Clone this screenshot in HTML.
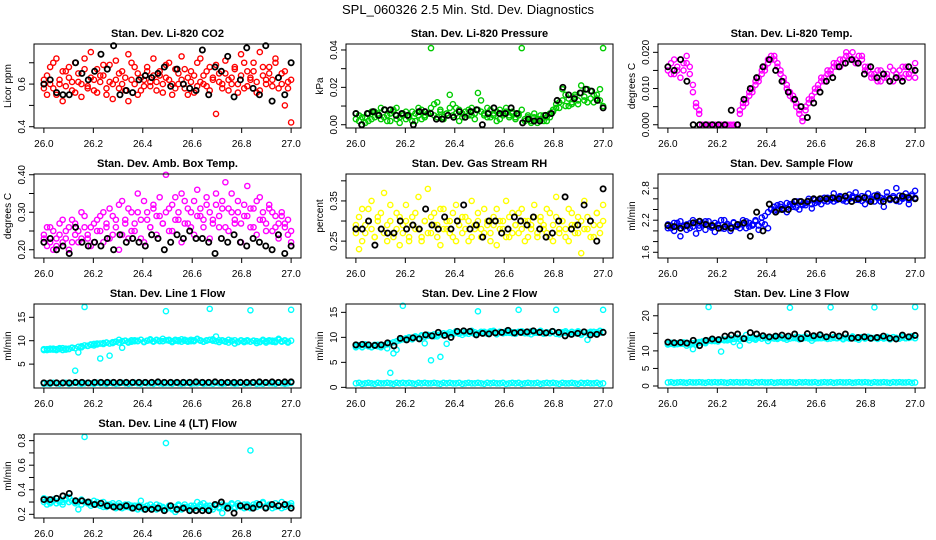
<!DOCTYPE html>
<html><head><meta charset="utf-8"><title>SPL_060326 Diagnostics</title>
<style>
html,body{margin:0;padding:0;background:#fff;}
svg{display:block;font-family:"Liberation Sans",sans-serif;}
</style></head>
<body>
<svg id="fig" width="936" height="540" viewBox="0 0 936 540">
<text x="468" y="14" text-anchor="middle" font-size="13">SPL_060326  2.5 Min. Std. Dev. Diagnostics</text>
</svg>
<script>
// ---- data per panel ----
const p1Color = [0.62,0.55,0.68,0.58,0.72,0.6,0.52,0.66,0.63,0.57,0.7,0.61,0.54,0.67,0.59,0.75,0.62,0.56,0.64,0.69,0.58,0.61,0.53,0.71,0.65,0.6,0.57,0.74,0.62,0.68,0.55,0.63,0.59,0.66,0.61,0.72,0.57,0.64,0.6,0.69,0.62,0.55,0.67,0.6,0.73,0.58,0.63,0.66,0.56,0.7,0.61,0.64,0.59,0.68,0.62,0.46,0.65,0.6,0.71,0.57,0.63,0.67,0.6,0.74,0.58,0.66,0.62,0.7,0.56,0.75,0.64,0.6,0.68,0.62,0.72,0.58,0.65,0.5,0.61,0.42];
const p1Color2 = [0.58,0.64,0.6,0.7,0.55,0.62,0.66,0.59,0.68,0.61,0.56,0.65,0.6,0.72,0.58,0.63,0.57,0.67,0.61,0.64,0.55,0.69,0.6,0.62,0.58,0.66,0.63,0.52,0.7,0.6,0.65,0.57,0.62,0.68,0.59,0.64,0.61,0.66,0.56,0.63,0.7,0.6,0.58,0.65,0.62,0.67,0.55,0.61,0.64,0.59,0.72,0.6,0.66,0.57,0.63,0.69,0.61,0.58,0.65,0.62,0.6,0.68,0.56,0.64,0.7,0.59,0.63,0.66,0.61,0.57,0.68,0.62,0.65,0.59,0.7,0.63,0.6,0.66,0.58,0.62];
const p1Black = [0.6,0.62,0.56,0.55,0.55,0.7,0.65,0.62,0.66,0.74,0.67,0.78,0.55,0.57,0.56,0.62,0.64,0.63,0.65,0.68,0.59,0.67,0.6,0.58,0.57,0.76,0.55,0.68,0.66,0.73,0.54,0.62,0.77,0.58,0.55,0.78,0.52,0.63,0.55,0.7];
const p2Color = [0.006,0.002,0.004,0.001,0.006,0.003,0.007,0.005,0.009,0.004,0.002,0.006,0.008,0.003,0.001,0.005,0.007,0.004,0.002,0.006,0.009,0.003,0.005,0.006,0.041,0.011,0.004,0.008,0.003,0.006,0.016,0.005,0.009,0.002,0.006,0.004,0.008,0.005,0.003,0.017,0.007,0.005,0.009,0.004,0.006,0.002,0.008,0.005,0.007,0.004,0.006,0.003,0.005,0.041,0.002,0.004,0.001,0.006,0.003,0.005,0.002,0.004,0.006,0.008,0.009,0.012,0.019,0.01,0.014,0.011,0.016,0.013,0.021,0.015,0.012,0.018,0.016,0.014,0.019,0.041];
const p2Color2 = [0.003,0.005,0.0,0.004,0.002,0.007,0.004,0.006,0.003,0.008,0.005,0.002,0.007,0.009,0.004,0.006,0.003,0.005,0.007,0.002,0.005,0.008,0.004,0.006,0.009,0.005,0.012,0.007,0.004,0.006,0.009,0.011,0.006,0.008,0.004,0.007,0.005,0.009,0.006,0.008,0.013,0.006,0.004,0.008,0.005,0.007,0.003,0.006,0.009,0.005,0.007,0.004,0.006,0.008,0.003,0.005,0.002,0.004,0.001,0.003,0.005,0.002,0.004,0.007,0.011,0.009,0.013,0.016,0.01,0.012,0.015,0.011,0.017,0.013,0.019,0.014,0.012,0.016,0.013,0.01];
const p2Black = [0.006,0.0,0.006,0.007,0.005,0.008,0.008,0.005,0.006,0.005,0.0,0.007,0.007,0.006,0.003,0.003,0.005,0.004,0.007,0.004,0.007,0.008,0.0,0.006,0.009,0.006,0.006,0.009,0.006,0.001,0.003,0.002,0.002,0.005,0.006,0.013,0.02,0.016,0.014,0.017,0.019,0.018,0.013,0.009];
const p3Color = [0.016,0.014,0.018,0.015,0.013,0.017,0.019,0.016,0.011,0.006,0.003,0,0,0,0,0,0,0,0,0,0,0,0,0.004,0.005,0.007,0.008,0.01,0.011,0.013,0.014,0.016,0.018,0.019,0.018,0.017,0.015,0.013,0.011,0.009,0.008,0.006,0.004,0.002,0.005,0.006,0.008,0.009,0.011,0.012,0.013,0.014,0.015,0.016,0.017,0.016,0.018,0.019,0.018,0.02,0.017,0.019,0.018,0.016,0.015,0.014,0.013,0.015,0.012,0.014,0.013,0.016,0.012,0.014,0.015,0.013,0.016,0.014,0.015,0.013];
const p3Color2 = [0.015,0.017,0.014,0.016,0.018,0.015,0.017,0.014,0.009,0.005,0.004,0,0,0,0,0,0,0,0,0,0,0,0,0.003,0.006,0.006,0.009,0.009,0.012,0.012,0.015,0.015,0.017,0.018,0.019,0.016,0.014,0.012,0.01,0.008,0.007,0.005,0.003,0.001,0.004,0.007,0.007,0.01,0.01,0.013,0.012,0.015,0.014,0.017,0.016,0.018,0.017,0.02,0.019,0.018,0.018,0.017,0.019,0.015,0.016,0.013,0.014,0.012,0.015,0.013,0.014,0.012,0.015,0.014,0.013,0.016,0.014,0.013,0.015,0.017];
const p3Black = [0.016,0.015,0.018,0.012,0,0,0,0,0,0,0.004,0,0.007,0.01,0.013,0.016,0.018,0.015,0.012,0.009,0.007,0.005,0.002,0.006,0.009,0.012,0.013,0.016,0.017,0.018,0.017,0.014,0.016,0.013,0.014,0.012,0.013,0.012,0.016,0.015];
const p4Color = [0.24,0.21,0.26,0.2,0.23,0.27,0.22,0.25,0.2,0.28,0.24,0.22,0.3,0.26,0.23,0.21,0.27,0.25,0.29,0.22,0.26,0.31,0.24,0.28,0.2,0.33,0.27,0.23,0.3,0.25,0.35,0.28,0.22,0.3,0.26,0.32,0.24,0.29,0.27,0.4,0.31,0.25,0.34,0.28,0.22,0.33,0.27,0.3,0.24,0.36,0.29,0.26,0.32,0.23,0.28,0.35,0.26,0.31,0.38,0.25,0.3,0.27,0.33,0.22,0.29,0.37,0.26,0.31,0.24,0.34,0.28,0.25,0.32,0.3,0.26,0.23,0.29,0.27,0.24,0.22];
const p4Color2 = [0.23,0.26,0.22,0.25,0.21,0.24,0.28,0.23,0.26,0.22,0.27,0.25,0.23,0.29,0.24,0.26,0.22,0.28,0.25,0.3,0.27,0.23,0.29,0.26,0.32,0.24,0.28,0.31,0.25,0.27,0.3,0.23,0.33,0.28,0.26,0.31,0.29,0.34,0.27,0.3,0.25,0.32,0.28,0.3,0.35,0.27,0.31,0.26,0.33,0.29,0.31,0.28,0.34,0.3,0.27,0.32,0.29,0.33,0.26,0.31,0.35,0.28,0.3,0.27,0.32,0.29,0.31,0.26,0.33,0.28,0.3,0.27,0.31,0.25,0.29,0.27,0.3,0.26,0.28,0.25];
const p4Black = [0.22,0.23,0.2,0.21,0.19,0.26,0.22,0.21,0.22,0.21,0.23,0.2,0.24,0.22,0.23,0.22,0.21,0.24,0.23,0.2,0.22,0.24,0.23,0.25,0.23,0.23,0.22,0.19,0.23,0.22,0.24,0.22,0.21,0.23,0.22,0.21,0.2,0.24,0.19,0.21];
const p5Color = [0.29,0.23,0.33,0.27,0.3,0.35,0.26,0.31,0.28,0.37,0.25,0.3,0.27,0.32,0.24,0.29,0.34,0.26,0.31,0.28,0.36,0.25,0.3,0.38,0.27,0.32,0.29,0.24,0.33,0.28,0.3,0.26,0.34,0.29,0.27,0.31,0.25,0.35,0.28,0.3,0.26,0.33,0.29,0.27,0.31,0.24,0.3,0.28,0.35,0.26,0.32,0.29,0.27,0.33,0.25,0.3,0.28,0.34,0.26,0.31,0.29,0.27,0.32,0.25,0.36,0.28,0.3,0.26,0.33,0.29,0.27,0.31,0.22,0.35,0.28,0.3,0.26,0.32,0.29,0.34];
const p5Color2 = [0.27,0.31,0.25,0.29,0.33,0.28,0.26,0.3,0.32,0.27,0.29,0.34,0.26,0.28,0.31,0.27,0.3,0.25,0.29,0.32,0.28,0.26,0.3,0.27,0.31,0.29,0.26,0.33,0.28,0.3,0.27,0.32,0.25,0.29,0.31,0.28,0.3,0.26,0.29,0.32,0.28,0.27,0.3,0.25,0.29,0.33,0.28,0.3,0.26,0.31,0.27,0.29,0.32,0.28,0.3,0.26,0.29,0.31,0.27,0.3,0.28,0.33,0.26,0.29,0.31,0.27,0.3,0.28,0.25,0.32,0.29,0.27,0.3,0.28,0.31,0.26,0.29,0.32,0.27,0.3];
const p5Black = [0.28,0.28,0.3,0.24,0.28,0.27,0.27,0.3,0.28,0.29,0.28,0.33,0.29,0.28,0.31,0.28,0.3,0.34,0.28,0.29,0.26,0.3,0.3,0.27,0.28,0.31,0.3,0.29,0.31,0.28,0.26,0.27,0.3,0.36,0.28,0.29,0.34,0.3,0.25,0.38];
const p6Color = [2.05,2.1,2.0,2.15,1.9,2.08,2.12,2.05,2.2,1.95,2.1,2.15,2.02,2.18,2.08,1.98,2.12,2.05,2.2,2.1,2.0,2.15,2.08,2.12,2.2,2.05,2.15,2.1,2.18,2.02,2.25,2.12,2.05,2.4,2.45,2.38,2.5,2.42,2.35,2.5,2.45,2.55,2.4,2.5,2.48,2.6,2.42,2.52,2.58,2.5,2.62,2.55,2.6,2.7,2.58,2.65,2.6,2.55,2.68,2.62,2.72,2.58,2.65,2.5,2.7,2.6,2.55,2.68,2.62,2.45,2.72,2.58,2.65,2.8,2.55,2.62,2.7,2.5,2.65,2.75];
const p6Color2 = [2.12,2.05,2.15,2.08,2.18,2.1,2.02,2.14,2.08,2.16,2.05,2.12,2.18,2.1,2.06,2.15,2.1,2.2,2.04,2.13,2.08,2.16,2.1,2.05,2.14,2.18,2.08,2.12,2.2,2.1,2.15,2.28,2.35,2.42,2.38,2.48,2.45,2.4,2.52,2.46,2.5,2.44,2.55,2.48,2.52,2.56,2.5,2.58,2.54,2.6,2.56,2.62,2.58,2.55,2.6,2.63,2.57,2.62,2.6,2.65,2.58,2.62,2.56,2.64,2.6,2.58,2.66,2.62,2.55,2.6,2.64,2.58,2.62,2.56,2.66,2.6,2.63,2.58,2.68,2.62];
const p6Black = [2.1,2.08,2.05,2.1,2.15,2.18,2.12,2.1,2.05,2.08,2.05,2.12,2.15,1.9,2.35,2.0,2.5,2.35,2.4,2.4,2.55,2.55,2.55,2.6,2.6,2.6,2.62,2.6,2.65,2.55,2.6,2.62,2.55,2.65,2.55,2.6,2.58,2.65,2.62,2.6];
const p7Color = [8.2,8.0,8.3,8.1,8.2,8.4,8.0,8.3,8.2,8.5,3.6,7.5,8.6,17.2,8.9,9.2,9.0,9.4,6.2,9.3,9.6,6.8,9.5,9.8,10.2,8.5,10.0,9.6,9.8,10.1,9.9,10.2,9.7,10.0,10.3,9.8,10.1,9.9,10.4,16.3,10.0,9.7,10.2,9.9,10.3,10.0,9.8,10.2,9.9,10.4,10.1,9.8,10.0,16.8,10.3,10.9,9.7,10.1,9.9,9.6,10.0,9.4,9.8,10.1,9.7,9.9,16.5,10.0,9.5,9.8,10.2,9.6,9.9,10.0,9.7,10.4,9.8,10.0,9.6,16.6];
const p7Color2 = [8.0,8.2,8.1,8.3,8.0,8.2,8.4,8.1,8.3,8.5,8.4,8.7,8.8,9.0,8.9,9.1,9.3,9.2,9.4,9.5,9.6,9.4,9.7,9.8,9.6,9.9,10.0,9.8,10.1,9.9,10.0,10.2,9.8,10.0,10.1,9.9,10.2,10.0,9.9,10.1,10.2,9.9,10.0,10.1,9.8,10.2,10.0,9.9,10.1,10.3,10.0,9.8,10.1,10.2,10.0,9.9,10.1,10.0,9.8,10.2,9.9,10.1,9.7,10.0,9.9,10.1,9.8,10.0,9.9,9.7,10.0,9.9,10.1,9.8,10.0,10.2,9.9,10.1,9.8,10.0];
const p7Low = [0.8,0.9,0.8,1.0,0.9,0.8,0.9,1.0,0.8,0.9,1.0,0.9,0.8,0.9,1.0,0.9,0.8,1.0,0.9,0.9,0.8,1.0,0.9,0.8,0.9,1.0,0.9,0.8,0.9,1.0,0.9,0.8,1.0,0.9,0.9,0.8,1.0,0.9,0.8,0.9,0.9,0.8,1.0,0.9,0.8,0.9,1.0,0.8,0.9,0.9,1.0,0.8,0.9,0.9,0.8,1.0,0.9,0.8,0.9,1.0,0.9,0.8,0.9,1.0,0.8,0.9,0.9,1.0,0.8,0.9,0.8,1.0,0.9,0.9,0.8,1.0,0.9,0.8,0.9,1.0];
const p7Black = [1.0,1.0,1.0,1.0,1.0,1.1,1.1,1.0,1.1,1.1,1.1,1.1,1.1,1.1,1.1,1.1,1.1,1.1,1.2,1.1,1.1,1.1,1.1,1.1,1.2,1.1,1.1,1.2,1.1,1.1,1.1,1.1,1.1,1.1,1.2,1.1,1.2,1.1,1.2,1.2];
const p8Color = [8.2,8.4,8.0,8.6,8.3,8.1,8.5,8.2,8.0,8.4,7.8,2.9,6.8,7.5,9.5,16.3,9.8,10.0,9.6,10.2,9.8,10.4,8.8,10.5,5.4,10.6,10.2,6.1,10.8,8.7,11.0,10.6,11.2,10.8,10.5,11.0,10.7,11.3,10.6,15.2,10.9,11.1,10.7,11.0,11.3,10.6,11.1,10.8,11.2,10.9,11.0,10.7,15.5,11.2,10.8,11.0,10.6,11.1,10.9,11.3,10.7,11.0,10.8,11.2,15.5,10.6,11.0,10.9,10.7,11.1,10.8,11.2,10.5,11.0,9.5,10.9,11.1,10.7,11.3,15.5];
const p8Color2 = [8.0,8.3,8.1,8.4,8.2,8.0,8.3,8.5,8.1,8.4,8.6,8.8,9.0,9.2,9.4,9.6,9.5,9.8,9.7,10.0,9.9,10.2,10.1,10.3,10.4,10.2,10.5,10.6,10.4,10.7,10.6,10.8,10.9,10.7,11.0,10.8,11.1,10.9,11.0,10.8,11.1,11.0,10.9,11.2,11.0,10.8,11.1,11.0,10.9,11.2,10.8,11.0,11.1,10.9,11.0,10.8,11.2,10.9,11.0,11.1,10.8,11.0,10.9,11.1,10.7,11.0,10.9,11.2,10.8,11.0,10.9,11.1,10.8,11.0,10.9,11.1,10.7,11.0,10.9,11.1];
const p8Low = [0.8,0.9,0.7,0.8,0.9,0.8,0.7,0.9,0.8,0.8,0.9,0.8,0.7,0.9,0.8,0.9,0.8,0.9,0.8,0.7,0.9,0.8,0.9,0.8,0.8,0.9,0.8,0.7,0.9,0.8,0.9,0.8,0.8,0.9,0.7,0.8,0.9,0.8,0.8,0.9,0.8,0.7,0.9,0.8,0.9,0.8,0.8,0.9,0.7,0.8,0.9,0.8,0.9,0.7,0.8,0.9,0.8,0.8,0.9,0.7,0.8,0.9,0.8,0.9,0.8,0.7,0.9,0.8,0.8,0.9,0.8,0.7,0.9,0.8,0.9,0.8,0.8,0.9,0.7,0.8];
const p8Black = [8.5,8.6,8.5,8.4,8.5,8.9,8.3,9.8,9.5,9.9,9.7,10.5,10.3,11.0,10.4,10.0,11.2,11.3,11.2,10.5,10.8,10.7,10.9,11.0,11.4,10.9,11.0,11.1,11.3,11.0,10.9,11.2,11.0,10.3,10.6,10.8,11.1,10.5,10.6,11.0];
const p9Color = [12.0,12.3,11.8,12.2,12.0,12.4,11.5,12.1,10.5,11.8,12.3,12.5,12.2,22.5,12.8,13.0,12.7,9.8,13.2,13.0,13.5,12.5,13.8,11.5,13.4,14.5,13.0,13.6,13.2,13.8,13.5,13.9,12.8,13.6,14.0,13.4,13.8,13.5,13.2,22.3,13.7,14.0,13.3,13.8,14.1,13.5,12.9,13.9,13.6,14.2,13.7,13.4,22.4,13.9,13.6,14.0,13.3,13.8,13.5,14.1,13.6,13.2,13.9,13.5,14.0,13.7,22.4,13.4,13.8,13.6,14.0,13.3,13.9,13.7,13.5,14.1,13.6,13.8,14.2,22.5];
const p9Color2 = [11.8,12.0,12.2,11.9,12.1,12.0,12.3,11.8,12.2,12.4,12.5,12.7,12.6,12.9,13.0,12.8,13.1,13.2,13.0,13.3,13.2,13.4,13.5,13.3,13.6,13.4,13.7,13.5,13.6,13.8,13.5,13.7,13.6,13.8,13.5,13.7,13.9,13.6,13.8,13.5,13.7,13.6,13.9,13.5,13.7,13.8,13.6,13.5,13.8,13.6,13.7,13.9,13.5,13.7,13.6,13.8,13.5,13.7,13.6,13.8,13.5,13.7,13.9,13.6,13.8,13.5,13.7,13.6,13.8,13.5,13.7,13.6,13.9,13.7,13.5,13.8,13.6,13.7,13.9,13.6];
const p9Low = [1.0,1.1,0.9,1.0,1.1,1.0,0.9,1.1,1.0,1.0,1.1,1.0,0.9,1.1,1.0,1.1,1.0,1.1,1.0,0.9,1.1,1.0,1.1,1.0,1.0,1.1,1.0,0.9,1.1,1.0,1.1,1.0,1.0,1.1,0.9,1.0,1.1,1.0,1.0,1.1,1.0,0.9,1.1,1.0,1.1,1.0,1.0,1.1,0.9,1.0,1.1,1.0,1.1,0.9,1.0,1.1,1.0,1.0,1.1,0.9,1.0,1.1,1.0,1.1,1.0,0.9,1.1,1.0,1.0,1.1,1.0,0.9,1.1,1.0,1.1,1.0,1.0,1.1,0.9,1.0];
const p9Black = [12.5,12.3,12.4,12.2,13.0,11.5,13.0,13.4,13.2,14.2,14.5,14.8,13.5,15.2,14.8,14.3,14.0,14.2,14.5,14.2,14.8,13.5,14.9,14.3,14.6,14.0,14.6,14.2,14.8,13.6,13.8,14.0,13.6,13.8,14.2,13.6,13.4,14.5,14.0,14.4];
const p10Color = [0.33,0.28,0.3,0.32,0.29,0.31,0.3,0.33,0.34,0.31,0.3,0.24,0.32,0.83,0.3,0.29,0.31,0.28,0.27,0.3,0.26,0.28,0.27,0.25,0.29,0.27,0.26,0.28,0.25,0.27,0.24,0.31,0.26,0.25,0.28,0.26,0.24,0.27,0.25,0.78,0.26,0.24,0.22,0.27,0.25,0.28,0.26,0.24,0.27,0.3,0.26,0.29,0.25,0.27,0.24,0.28,0.26,0.21,0.27,0.25,0.28,0.26,0.29,0.27,0.25,0.28,0.72,0.26,0.29,0.27,0.3,0.26,0.28,0.25,0.29,0.27,0.3,0.26,0.28,0.27];
const p10Color2 = [0.3,0.32,0.29,0.31,0.33,0.3,0.28,0.32,0.3,0.31,0.29,0.3,0.28,0.3,0.29,0.27,0.28,0.3,0.27,0.26,0.28,0.27,0.29,0.26,0.27,0.25,0.28,0.26,0.27,0.25,0.27,0.26,0.24,0.27,0.25,0.26,0.28,0.25,0.26,0.24,0.27,0.25,0.26,0.28,0.24,0.26,0.25,0.27,0.25,0.26,0.28,0.25,0.27,0.24,0.26,0.27,0.25,0.28,0.26,0.27,0.29,0.25,0.27,0.26,0.28,0.27,0.25,0.28,0.26,0.27,0.29,0.26,0.27,0.28,0.26,0.27,0.25,0.28,0.27,0.29];
const p10Black = [0.32,0.32,0.33,0.35,0.37,0.31,0.31,0.3,0.28,0.29,0.27,0.26,0.26,0.27,0.25,0.26,0.24,0.24,0.25,0.23,0.27,0.24,0.25,0.23,0.23,0.23,0.23,0.28,0.3,0.25,0.21,0.27,0.26,0.25,0.28,0.25,0.28,0.27,0.28,0.25];

const xTicks = [26.0,26.2,26.4,26.6,26.8,27.0];
const xTickLabels = ["26.0","26.2","26.4","26.6","26.8","27.0"];

const p1YTicks=[0.4,0.5,0.6,0.7], p1YLabels=["0.4","","0.6",""];
const p2YTicks=[0,0.01,0.02,0.03,0.04], p2YLabels=["0.00","","0.02","","0.04"];
const p3YTicks=[0,0.005,0.01,0.015,0.02], p3YLabels=["0.000","","0.010","","0.020"];
const p4YTicks=[0.2,0.25,0.3,0.35,0.4], p4YLabels=["0.20","","0.30","","0.40"];
const p5YTicks=[0.25,0.3,0.35,0.4], p5YLabels=["0.25","","0.35",""];
const p6YTicks=[1.6,1.8,2.0,2.2,2.4,2.6,2.8], p6YLabels=["1.6","","","2.2","","","2.8"];
const p7YTicks=[5,10,15], p7YLabels=["5","10","15"];
const p8YTicks=[0,5,10,15], p8YLabels=["0","5","10","15"];
const p9YTicks=[0,5,10,15,20], p9YLabels=["0","5","10","","20"];
const p10YTicks=[0.2,0.3,0.4,0.5,0.6,0.7,0.8], p10YLabels=["0.2","","0.4","","0.6","","0.8"];

const NS="http://www.w3.org/2000/svg";
const svg=document.getElementById('fig');
const colLeft=[34,346,658], rowTop=[44,174,304,434], W=267, H=84;

function mk(tag, attrs, parent){
  const e=document.createElementNS(NS,tag);
  for(const k in attrs) e.setAttribute(k,attrs[k]);
  (parent||svg).appendChild(e);
  return e;
}

function panel(col,row,title,ylab,yMin,yMax,yTicks,yLabels,series,key){
  const L=colLeft[col], T=rowTop[row], B=T+H;
  const g=mk('g',{});
  
  
  const xs=v=>L+W*(v-25.96)/1.08;
  const ys=v=>B-H*(v-yMin)/(yMax-yMin);
  const t=mk('text',{x:L+W/2,y:T-7,'text-anchor':'middle','font-size':'11','font-weight':'bold'},g);
  t.textContent=title;
  
  
  series.forEach(s=>{
    const sg=mk('g',{fill:'none',stroke:s.color,'stroke-width':s.w},g);
    
    
    const n=s.data.length;
    s.data.forEach((v,i)=>{
      const c=mk('circle',{cx:xs(26+i/(n-1)),cy:ys(v),r:2.6},sg);
      
      
    });
  });
  const r=mk('rect',{x:L,y:T,width:W,height:H,fill:'none',stroke:'#000','stroke-width':1},g);
  
  
  const xa=mk('g',{},g);
  
  
  mk('line',{x1:xs(xTicks[0]),x2:xs(xTicks[xTicks.length-1]),y1:B,y2:B,stroke:'#000'},xa);
  xTicks.forEach((v,i)=>{
    mk('line',{x1:xs(v),x2:xs(v),y1:B,y2:B+5,stroke:'#000'},xa);
    const tl=mk('text',{x:xs(v),y:B+19,'text-anchor':'middle','font-size':'10'},xa);
    tl.textContent=xTickLabels[i];
    
    
  });
  const ya=mk('g',{},g);
  
  
  yTicks.forEach((v,i)=>{
    mk('line',{x1:L-5,x2:L,y1:ys(v),y2:ys(v),stroke:'#000'},ya);
    if(yLabels[i]){
      const tl=mk('text',{x:0,y:0,'text-anchor':'middle','font-size':'10',transform:`translate(${L-9},${ys(v)}) rotate(-90)`},ya);
      tl.textContent=yLabels[i];
      
      
    }
  });
  const yl=mk('text',{x:0,y:0,'text-anchor':'middle','font-size':'10',transform:`translate(${L-23},${T+H/2}) rotate(-90)`},g);
  yl.textContent=ylab;
  
  
}

const BLK='#000';
panel(0,0,'Stan. Dev. Li-820 CO2','Licor ppm',0.394,0.788,p1YTicks,p1YLabels,
  [{name:'red',color:'#ff0000',w:1.4,data:p1Color},{name:'red-b',color:'#ff0000',w:1.4,data:p1Color2},{name:'black',color:BLK,w:1.8,data:p1Black}],'co2');
panel(1,0,'Stan. Dev. Li-820 Pressure','kPa',-0.00175,0.0432,p2YTicks,p2YLabels,
  [{name:'green',color:'#00cc00',w:1.4,data:p2Color},{name:'green-b',color:'#00cc00',w:1.4,data:p2Color2},{name:'black',color:BLK,w:1.8,data:p2Black}],'pressure');
panel(2,0,'Stan. Dev. Li-820 Temp.','degrees C',-0.0009,0.0223,p3YTicks,p3YLabels,
  [{name:'magenta',color:'#ff00ff',w:1.4,data:p3Color},{name:'magenta-b',color:'#ff00ff',w:1.4,data:p3Color2},{name:'black',color:BLK,w:1.8,data:p3Black}],'li820-temp');
panel(0,1,'Stan. Dev. Amb. Box Temp.','degrees C',0.178,0.402,p4YTicks,p4YLabels,
  [{name:'magenta',color:'#ff00ff',w:1.4,data:p4Color},{name:'magenta-b',color:'#ff00ff',w:1.4,data:p4Color2},{name:'black',color:BLK,w:1.8,data:p4Black}],'amb-temp');
panel(1,1,'Stan. Dev. Gas Stream RH','percent',0.208,0.417,p5YTicks,p5YLabels,
  [{name:'yellow',color:'#ffff00',w:1.4,data:p5Color},{name:'yellow-b',color:'#ffff00',w:1.4,data:p5Color2},{name:'black',color:BLK,w:1.8,data:p5Black}],'rh');
panel(2,1,'Stan. Dev. Sample Flow','ml/min',1.493,3.064,p6YTicks,p6YLabels,
  [{name:'blue',color:'#0000ff',w:1.4,data:p6Color},{name:'blue-b',color:'#0000ff',w:1.4,data:p6Color2},{name:'black',color:BLK,w:1.8,data:p6Black}],'sample-flow');
panel(0,2,'Stan. Dev. Line 1 Flow','ml/min',-0.1,17.84,p7YTicks,p7YLabels,
  [{name:'cyan',color:'#00ffff',w:1.4,data:p7Color},{name:'cyan-b',color:'#00ffff',w:1.4,data:p7Color2},{name:'cyan-low',color:'#00ffff',w:1.4,data:p7Low},{name:'black',color:BLK,w:1.8,data:p7Black}],'line1');
panel(1,2,'Stan. Dev. Line 2 Flow','ml/min',-0.13,16.67,p8YTicks,p8YLabels,
  [{name:'cyan',color:'#00ffff',w:1.4,data:p8Color},{name:'cyan-b',color:'#00ffff',w:1.4,data:p8Color2},{name:'cyan-low',color:'#00ffff',w:1.4,data:p8Low},{name:'black',color:BLK,w:1.8,data:p8Black}],'line2');
panel(2,2,'Stan. Dev. Line 3 Flow','ml/min',-0.57,23.35,p9YTicks,p9YLabels,
  [{name:'cyan',color:'#00ffff',w:1.4,data:p9Color},{name:'cyan-b',color:'#00ffff',w:1.4,data:p9Color2},{name:'cyan-low',color:'#00ffff',w:1.4,data:p9Low},{name:'black',color:BLK,w:1.8,data:p9Black}],'line3');
panel(0,3,'Stan. Dev. Line 4 (LT) Flow','ml/min',0.17,0.854,p10YTicks,p10YLabels,
  [{name:'cyan',color:'#00ffff',w:1.4,data:p10Color},{name:'cyan-b',color:'#00ffff',w:1.4,data:p10Color2},{name:'black',color:BLK,w:1.8,data:p10Black}],'line4');
</script>
</body></html>
